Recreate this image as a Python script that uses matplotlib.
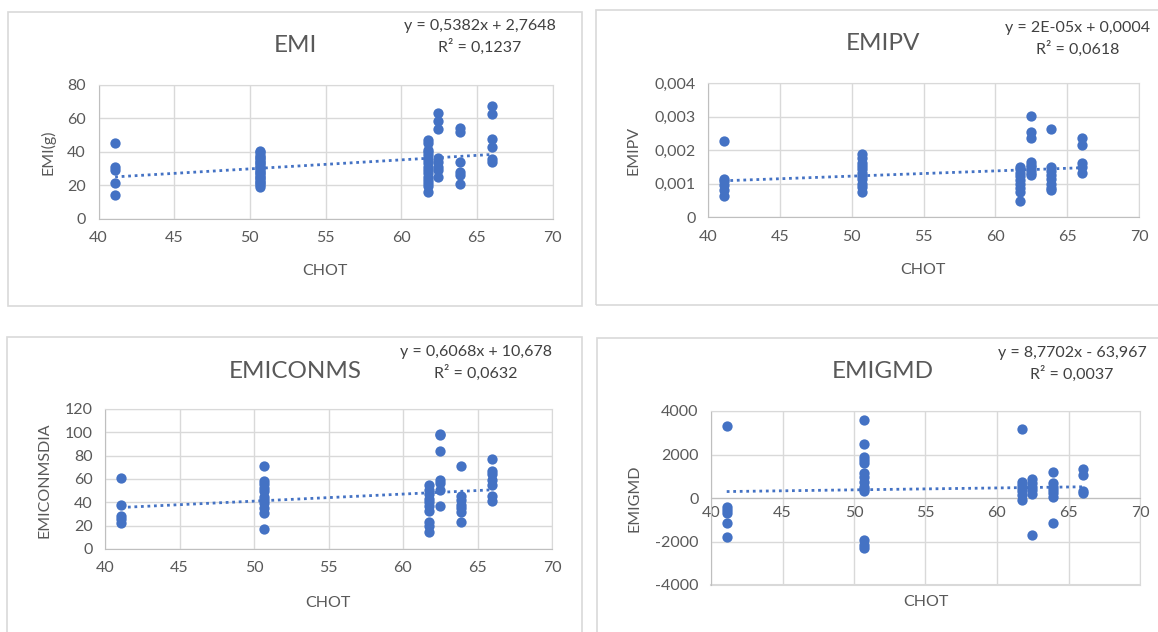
import matplotlib.pyplot as plt
from matplotlib.patches import Rectangle

plt.rcParams['font.family'] = ['Lato', 'DejaVu Sans']

# CHOT groups shared by all four panels
chot = [41.1, 50.7, 61.75, 62.45, 63.9, 66.0]

# y values for each CHOT group
emi = [
    [45.2, 30.5, 29.0, 21.5, 14.0],
    [40.5, 39.5, 38, 37, 36, 35, 34, 33, 32, 31, 30, 29, 28, 27, 26, 25, 24, 23, 22, 21, 20, 19],
    [47, 45, 41, 39.5, 38, 35, 33, 31, 29, 27, 25, 23, 21, 19.5, 16],
    [63.3, 58, 53.5, 36, 34, 31, 29, 25],
    [54, 51.5, 34, 28, 26, 20.5],
    [67, 62.5, 47.5, 43, 35.5, 33.5],
]
emipv = [
    [0.00226, 0.00114, 0.00106, 0.00096, 0.00081, 0.00062],
    [0.00187, 0.00176, 0.00162, 0.00152, 0.00142, 0.00132, 0.00122, 0.00112, 0.00100, 0.00090, 0.00075],
    [0.00150, 0.00142, 0.00132, 0.00122, 0.00110, 0.00098, 0.00088, 0.00076, 0.00049],
    [0.00302, 0.00255, 0.00236, 0.00165, 0.00156, 0.00148, 0.00140, 0.00132, 0.00125],
    [0.00262, 0.00150, 0.00138, 0.00125, 0.00112, 0.00100, 0.00088, 0.00081],
    [0.00237, 0.00215, 0.00161, 0.00150, 0.00131],
]
emiconms = [
    [61, 38, 28.5, 25.5, 22.5],
    [71, 58, 55.5, 52.5, 49.5, 45, 42, 39.5, 35, 31, 17.5],
    [55, 51, 47, 43, 40, 37, 33, 23.5, 20, 14.5],
    [99, 97.5, 84, 59, 56.5, 50.5, 37],
    [71, 45.5, 42, 38, 35, 31.5, 23],
    [77.5, 67, 64, 59.5, 55, 45.5, 41.5],
]
emigmd = [
    [3300, -430, -550, -680, -1160, -1780],
    [3590, 2470, 1900, 1750, 1600, 1130, 980, 750, 520, 400, 300, -1930, -2160, -2310],
    [3170, 750, 600, 450, 300, 150, -80],
    [860, 700, 520, 370, 190, -1700],
    [1200, 670, 520, 370, 220, 60, -1160],
    [1350, 1040, 340, 220],
]

# linear trend (slope, intercept) and the equation labels
trend_emi = (0.5382, 2.7648)
trend_emipv = (1.56e-05, 0.00044)
trend_emiconms = (0.6068, 10.678)
trend_emigmd = (8.7702, -63.967)
eq_emi = ["y = 0,5382x + 2,7648", "R² = 0,1237"]
eq_emipv = ["y = 2E-05x + 0,0004", "R² = 0,0618"]
eq_emiconms = ["y = 0,6068x + 10,678", "R² = 0,0632"]
eq_emigmd = ["y = 8,7702x - 63,967", "R² = 0,0037"]

xticks = [40, 45, 50, 55, 60, 65, 70]
yticks_emi = [0, 20, 40, 60, 80]
yticks_emipv = [0, 0.001, 0.002, 0.003, 0.004]
ylabels_emipv = ["0", "0,001", "0,002", "0,003", "0,004"]
yticks_emiconms = [0, 20, 40, 60, 80, 100, 120]
yticks_emigmd = [-4000, -2000, 0, 2000, 4000]

W, H = 1158, 632
BLUE = "#4472C4"
GRID = "#D9D9D9"
TXT = "#595959"

fig = plt.figure(figsize=(W / 100, H / 100), dpi=100)
fig.patch.set_facecolor("white")


def fx(px):
    return px / W


def fy(py):
    return 1 - py / H


def panel(border, plot, groups, trend, yticks, ylabels, title, eq, ylabel,
          title_xy, eq_xy, xlab_xy, ylab_xy, zero_axis=False):
    bx0, by0, bx1, by1 = border
    fig.patches.append(Rectangle((fx(bx0), fy(by1)), fx(bx1 - bx0), (by1 - by0) / H,
                                 transform=fig.transFigure, fill=False,
                                 edgecolor="#D9D9D9", lw=1.2))
    x0, y0, x1, y1 = plot
    ax = fig.add_axes([fx(x0), fy(y1), fx(x1 - x0), (y1 - y0) / H])
    for xv, ys in zip(chot, groups):
        ax.scatter([xv] * len(ys), ys, s=55, color=BLUE, zorder=3, linewidths=0)
    lo, hi = min(chot), max(chot)
    a, b = trend
    ax.plot([lo, hi], [a * lo + b, a * hi + b], color=BLUE, lw=2.0,
            linestyle=(0, (1.0, 1.35)), dash_capstyle="butt", zorder=2)
    ax.set_xlim(40, 70)
    ax.set_ylim(yticks[0], yticks[-1])
    ax.set_xticks(xticks)
    ax.set_yticks(yticks)
    ax.set_yticklabels(ylabels)
    ax.grid(True, color=GRID, lw=1)
    ax.set_axisbelow(True)
    ax.tick_params(length=0, labelsize=11.5, labelcolor=TXT, pad=9)
    for side in ["top", "right"]:
        ax.spines[side].set_color(GRID)
    for side in ["left", "bottom"]:
        ax.spines[side].set_color("#BFBFBF")
    if zero_axis:
        ax.spines["bottom"].set_position(("data", 0))
        ax.tick_params(axis="x", pad=6)
        ax.axhline(yticks[0], color=GRID, lw=1.5, clip_on=False)
    fig.text(fx(title_xy[0]), fy(title_xy[1]), title, ha="center", va="center",
             fontsize=17.5, color=TXT)
    fig.text(fx(eq_xy[0]), fy(eq_xy[1]), eq[0], ha="center", va="center",
             fontsize=11.5, color="#404040")
    fig.text(fx(eq_xy[0]), fy(eq_xy[1] + 21), eq[1], ha="center", va="center",
             fontsize=11.5, color="#404040")
    fig.text(fx(xlab_xy[0]), fy(xlab_xy[1]), "CHOT", ha="center", va="center",
             fontsize=11.5, color=TXT)
    fig.text(fx(ylab_xy[0]), fy(ylab_xy[1]), ylabel, ha="center", va="center",
             rotation=90, fontsize=11.5, color=TXT)
    return ax


panel((8, 12, 582, 306), (98.5, 84.7, 552.5, 218.5), emi, trend_emi,
      yticks_emi, [str(v) for v in yticks_emi], "EMI", eq_emi, "EMI(g)",
      (295, 45), (480, 26), (325, 271), (48, 152))

panel((596, 10, 1175, 305), (708, 83, 1139, 217), emipv, trend_emipv,
      yticks_emipv, ylabels_emipv, "EMIPV", eq_emipv, "EMIPV",
      (883, 44), (1078, 28), (923, 270), (633, 150))

panel((7, 337, 582, 650), (105, 409, 552, 549), emiconms, trend_emiconms,
      yticks_emiconms, [str(v) for v in yticks_emiconms], "EMICONMS", eq_emiconms,
      "EMICONMSDIA", (295, 371), (476, 352), (328, 603), (45, 480))

panel((597, 338, 1175, 650), (711, 411, 1140, 585), emigmd, trend_emigmd,
      yticks_emigmd, [str(v) for v in yticks_emigmd], "EMIGMD", eq_emigmd,
      "EMIGMD", (883, 372), (1072, 353), (926, 602), (635, 498), zero_axis=True)

fig.savefig("out.png", dpi=100)
